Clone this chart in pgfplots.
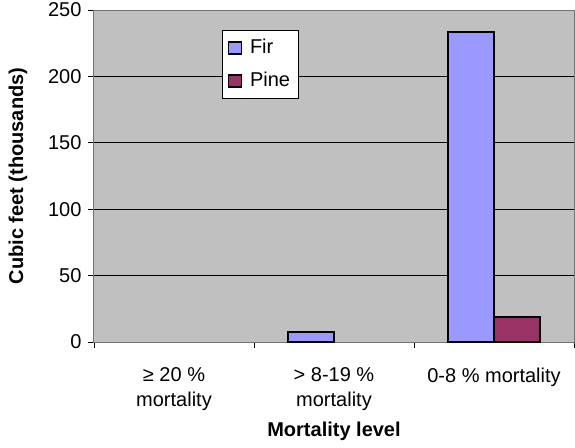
\documentclass[border=0pt]{standalone}
\usepackage{fontspec}
\setmainfont{Liberation Sans}
\usepackage{pgfplots}
\usepackage{pgfplotstable}
\pgfplotsset{compat=1.18}
\definecolor{fir}{HTML}{9999FF}
\definecolor{pine}{HTML}{993366}
\definecolor{bg}{HTML}{C0C0C0}

\pgfplotstableread{
x fir pine
0 0 0
1 7.3 0
2 233.7 19.1
}\data

\begin{document}
\begin{tikzpicture}[font=\fontsize{20}{24}\selectfont]
\begin{axis}[
  scale only axis, width=480pt, height=332pt,
  xmin=-0.5, xmax=2.5, ymin=0, ymax=250,
  axis background/.style={fill=bg},
  axis line style={draw=black!55, line width=1pt},
  ytick={0,50,...,250},
  ymajorgrids, grid style={black, line width=0.9pt},
  xtick={0,1,2},
  xticklabels={{≥ 20 \%\\mortality},{> 8-19 \%\\mortality},{0-8 \% mortality}},
  minor xtick={-0.5,0.5,1.5,2.5},
  tick align=outside, major tick length=6pt, minor tick length=6pt,
  tick style={black, line width=0.8pt},
  major x tick style={draw=none},
  xtick pos=left, ytick pos=left,
  /pgf/number format/assume math mode=true,
  yticklabel style={xshift=-3pt},
  xticklabel style={align=center, anchor=north, yshift=-16pt, font=\fontsize{20}{25}\selectfont},
  ylabel={\bfseries Cubic feet (thousands)},
  xlabel={\bfseries Mortality level},
  every axis y label/.style={at={(rel axis cs:0,0.5)}, xshift=-76pt, rotate=90, anchor=center},
  every axis x label/.style={at={(rel axis cs:0.5,0)}, yshift=-89pt, anchor=center},
  legend style={at={(0.2667,0.94)}, anchor=north west, draw=black, line width=1pt, fill=white,
    inner xsep=5pt, inner ysep=5pt, row sep=8pt, column sep=5pt, cells={anchor=west},
    nodes={inner xsep=3pt, inner ysep=4pt, text height=14pt, text depth=3pt}},
  ybar, bar width=0.2875,
  y filter/.expression={y==0 ? nan : y}, unbounded coords=discard,
]
\addplot[fill=fir, draw=black, line width=2pt, bar shift=-0.14375,
  legend image code/.code={\draw[fill=fir, draw=black, line width=1.5pt] (0pt,-6pt) rectangle (13pt,6pt);}]
  table[x=x,y=fir]{\data};
\addplot[fill=pine, draw=black, line width=2pt, bar shift=0.14375,
  legend image code/.code={\draw[fill=pine, draw=black, line width=1.5pt] (0pt,-6pt) rectangle (13pt,6pt);}]
  table[x=x,y=pine]{\data};
\legend{Fir, Pine}
\end{axis}
\pgfresetboundingbox
\path[use as bounding box] ([xshift=-94pt,yshift=10pt]current axis.north west) rectangle ([xshift=1pt,yshift=-105pt]current axis.south east);
\end{tikzpicture}
\end{document}
